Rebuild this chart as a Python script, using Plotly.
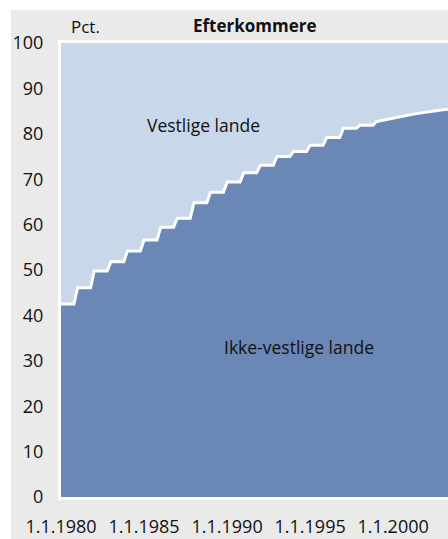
import plotly.graph_objects as go

# Yearly shares (pct.) of descendants with non-western background, 1.1.1980-1.1.1998
years = list(range(1980, 1999))
ikke_vestlige_yearly = [42.5, 46.1, 49.8, 51.8, 54.2, 56.6, 59.4, 61.4, 64.8, 67.1,
                        69.4, 71.4, 73.1, 75.0, 76.1, 77.5, 79.2, 81.2, 81.9]
# Finer-grained shares from 1999 onward
late_times = [1999.0, 1999.5, 2000.0, 2000.5, 2001.0, 2001.5, 2002.0, 2002.5, 2003.0, 2003.3]
ikke_vestlige_late = [82.7, 83.1, 83.5, 83.9, 84.2, 84.5, 84.8, 85.05, 85.3, 85.4]

tick_vals = [1980, 1985, 1990, 1995, 2000]
tick_text = ["1.1.1980", "1.1.1985", "1.1.1990", "1.1.1995", "1.1.2000"]

# build step series: each yearly level held through most of the year
x = []
ikke = []
for yr, v in zip(years, ikke_vestlige_yearly):
    x += [yr, yr + 0.78]
    ikke += [v, v]
x += late_times
ikke += ikke_vestlige_late
vest = [100 - v for v in ikke]

DARK = "rgb(107,135,182)"
LIGHT = "rgb(200,215,234)"
GREY = "rgb(234,234,234)"
FONT = "Open Sans"

fig = go.Figure()
fig.add_trace(go.Scatter(x=x, y=ikke, name="Ikke-vestlige lande", stackgroup="s",
                         mode="lines", line=dict(color="white", width=3),
                         fillcolor=DARK, hoverinfo="skip"))
fig.add_trace(go.Scatter(x=x, y=vest, name="Vestlige lande", stackgroup="s",
                         mode="lines", line=dict(color=LIGHT, width=0),
                         fillcolor=LIGHT, hoverinfo="skip"))

W, H = 448, 539
L, R, T, B = 61, 0, 43, 42
pw, ph = W - L - R, H - T - B


def px(xp):
    return (xp - L) / pw


def py(yp):
    return (H - B - yp) / ph


fig.add_shape(type="rect", xref="paper", yref="paper",
              x0=px(11), x1=1.0, y0=-B / ph, y1=py(10),
              fillcolor=GREY, line=dict(width=0), layer="below")

fig.add_annotation(text="Vestlige lande", x=1988.55, y=81.9, showarrow=False,
                   font=dict(family=FONT, size=17.5, color="#111"))
fig.add_annotation(text="Ikke-vestlige lande", x=1994.34, y=33.0, showarrow=False,
                   font=dict(family=FONT, size=17.5, color="#111"))
fig.add_annotation(text="Pct.", xref="paper", yref="paper", x=px(85), y=py(26.5),
                   xanchor="center", yanchor="middle", showarrow=False,
                   font=dict(family=FONT, size=17, color="#111"))
fig.add_annotation(text="<b>Efterkommere</b>", xref="paper", yref="paper",
                   x=px(255), y=py(25.5), xanchor="center", yanchor="middle",
                   showarrow=False, font=dict(family=FONT, size=17, color="#111"))

fig.update_layout(
    width=W, height=H, margin=dict(l=L, r=R, t=T, b=B, autoexpand=False),
    paper_bgcolor="white", plot_bgcolor=LIGHT, showlegend=False,
    font=dict(family=FONT, size=18, color="#111"),
    xaxis=dict(range=[1980, 2003.3], tickvals=tick_vals, ticktext=tick_text,
               showgrid=False, zeroline=False, showline=True, linecolor="white",
               linewidth=3, mirror=True, ticks="outside", ticklen=11,
               tickcolor="rgba(0,0,0,0)", fixedrange=True, automargin=False),
    yaxis=dict(range=[0, 100], tickvals=list(range(0, 101, 10)),
               showgrid=False, zeroline=False, showline=True, linecolor="white",
               linewidth=3, ticks="outside", ticklen=11,
               tickcolor="rgba(0,0,0,0)", fixedrange=True, automargin=False),
)

fig.write_html(
    "out.html",
    config={"displayModeBar": False},
    post_script=("document.documentElement.style.margin='0';"
                 "document.body.style.margin='0';"
                 "document.documentElement.style.overflow='hidden';"
                 "document.body.style.overflow='hidden';"),
)
